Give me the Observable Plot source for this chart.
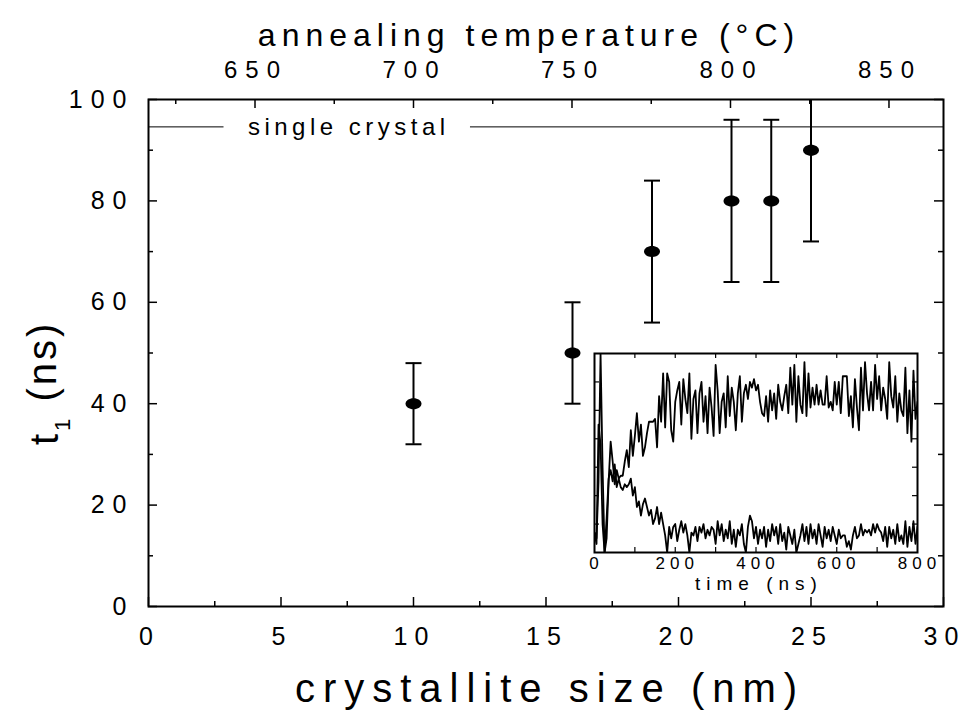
<!DOCTYPE html>
<html><head><meta charset="utf-8">
<script src="https://cdn.jsdelivr.net/npm/d3@7"></script>
<script src="https://cdn.jsdelivr.net/npm/@observablehq/plot@0.6"></script>
<style>
body{margin:0;background:#fff;}
#wrap{position:relative;width:961px;height:711px;overflow:hidden;}
#wrap svg{position:absolute;}
svg text{font-family:"Liberation Sans",Arial,Helvetica,sans-serif;}
</style></head><body><div id="wrap"></div>
<script>
// ---- main chart data ----
const sizes   = [10, 16, 19, 22, 23.5, 25];          // crystallite size (nm)
const t1      = [40, 50, 70, 80, 80, 90];             // t1 (ns)
const errLow  = [32, 40, 56, 64, 64, 72];
const errHigh = [48, 60, 84, 96, 96, 108];
const singleCrystal = 94.6;

const xTicksMajor = [0, 5, 10, 15, 20, 25, 30];
const xTicksMinor = [2.5, 7.5, 12.5, 17.5, 22.5, 27.5];
const yTicksMajor = [0, 20, 40, 60, 80, 100];
const yTicksMinor = [10, 30, 50, 70, 90];
const tempMajor = [650, 700, 750, 800, 850];
const tempMinor = [625, 675, 725, 775, 825];

// ---- inset data ----
const insetStep = 5; // ns sampling
const upperTrace = [
0.7,0.5,2.5,7.0,3.0,0.0,0.5,2.5,3.9,3.2,
2.4,2.9,2.6,2.7,2.7,3.2,3.6,3.0,4.3,3.4,
4.1,4.9,3.9,4.5,3.4,3.7,4.2,4.6,4.6,4.6,
4.7,3.7,5.5,4.6,6.3,4.4,6.3,6.0,4.3,3.9,
5.3,5.7,6.0,4.5,6.1,5.4,4.9,6.3,4.0,5.4,
5.7,4.2,5.6,6.0,4.6,5.5,4.2,5.8,5.1,4.1,
6.6,5.7,4.2,5.3,5.6,4.4,6.2,4.8,5.8,5.3,
4.3,5.6,6.2,4.6,5.6,5.9,5.4,6.0,5.8,6.1,
5.7,5.9,5.3,4.9,4.8,5.5,4.6,5.7,5.0,5.6,
4.7,5.9,5.3,5.0,5.5,5.9,4.9,6.5,5.2,6.6,
4.6,6.2,5.2,4.9,6.7,4.8,6.3,5.1,5.8,5.2,
5.9,5.2,5.7,5.2,5.2,6.2,5.1,5.3,5.0,6.0,
5.2,6.0,4.9,6.2,6.2,6.2,4.8,5.5,4.4,6.1,
5.1,4.3,6.5,5.0,6.7,5.6,5.0,6.0,5.0,6.6,
5.4,6.2,5.0,5.8,5.4,4.7,6.7,5.5,5.1,6.2,
4.6,5.6,5.0,4.8,6.5,4.2,5.7,3.9,6.4,4.7,
5.3];
const lowerTrace = [
0.7,0.3,4.5,3.8,1.0,0.0,1.2,2.6,2.9,2.5,
3.1,2.3,2.6,2.3,2.2,2.4,2.3,2.4,2.6,2.0,
2.3,1.6,1.8,1.3,1.7,1.9,1.6,1.3,1.5,1.0,
1.2,1.6,1.0,1.4,1.0,0.6,0.0,0.9,0.5,0.9,
1.0,0.4,0.8,1.1,0.7,1.0,0.6,0.0,0.7,0.6,
0.9,0.4,0.9,0.7,1.0,0.5,0.8,0.6,0.9,0.8,
0.3,1.1,0.6,1.0,0.4,0.8,0.5,1.1,0.3,0.8,
0.2,0.8,0.6,1.0,0.3,0.0,0.9,1.3,1.1,0.5,
0.9,0.3,0.8,0.5,0.9,0.2,0.8,0.4,1.0,0.6,
0.9,0.3,1.0,0.4,0.7,0.1,0.9,0.6,0.3,0.8,
0.0,0.3,0.6,1.0,0.4,0.9,0.3,1.0,0.5,0.8,
0.3,1.0,0.6,0.2,0.9,0.5,0.8,0.4,0.9,0.6,
0.3,0.8,0.5,0.6,0.6,0.2,0.4,0.1,0.6,0.9,
0.5,0.6,1.0,0.6,0.8,0.7,0.8,0.6,1.0,0.7,
1.0,0.8,0.7,0.4,0.9,0.2,0.9,0.5,0.8,0.3,
1.0,0.4,0.6,0.3,1.1,0.2,0.9,0.4,1.1,0.3,
0.9];
const insetXTicksLabeled = [0, 200, 400, 600, 800];
const insetXTicks = [100, 200, 300, 400, 500, 600, 700];
const insetYTicks = [1, 2, 3, 4, 5, 6];

// ---- layout ----
const W = 961, H = 711, ML = 148, MR = 18, MT = 99, MB = 105;
const PW = W - ML - MR, PH = H - MT - MB;
const tempToSize = T => (T - 616.4) / 8.36; // top axis mapping

const points = sizes.map((s, i) => ({size: s, t1: t1[i], lo: errLow[i], hi: errHigh[i]}));

const ellipse = {draw(ctx) {
  const rx = 8, ry = 5.5, k = 0.5523;
  ctx.moveTo(rx, 0);
  ctx.bezierCurveTo(rx, ry * k, rx * k, ry, 0, ry);
  ctx.bezierCurveTo(-rx * k, ry, -rx, ry * k, -rx, 0);
  ctx.bezierCurveTo(-rx, -ry * k, -rx * k, -ry, 0, -ry);
  ctx.bezierCurveTo(rx * k, -ry, rx, -ry * k, rx, 0);
  ctx.closePath();
}};
const cap = {draw(ctx) { ctx.moveTo(-8, 0); ctx.lineTo(8, 0); }};

const main = Plot.plot({
  width: W, height: H,
  marginLeft: ML, marginRight: MR, marginTop: MT, marginBottom: MB,
  style: {background: "white", fontFamily: "Liberation Sans, Arial, sans-serif", overflow: "visible"},
  x: {domain: [0, 30], axis: null},
  y: {domain: [0, 100], axis: null},
  marks: [
    // single-crystal reference line (with a gap for its label)
    Plot.ruleY([singleCrystal], {x1: 0, x2: 2.85, strokeWidth: 1}),
    Plot.ruleY([singleCrystal], {x1: 12.15, x2: 30, strokeWidth: 1}),
    Plot.text(["single crystal"], {x: 3.75, y: singleCrystal, text: d => d, textAnchor: "start", lineAnchor: "middle", fontSize: 24}),
    // error bars
    Plot.ruleX(points, {x: "size", y1: "lo", y2: "hi", strokeWidth: 2, clip: true}),
    Plot.dot(points, {x: "size", y: "lo", symbol: cap, stroke: "black", strokeWidth: 2, fill: "none", clip: true}),
    Plot.dot(points, {x: "size", y: "hi", symbol: cap, stroke: "black", strokeWidth: 2, fill: "none", clip: true}),
    Plot.dot(points, {x: "size", y: "t1", symbol: ellipse, fill: "black", stroke: "none"}),
    // ticks (inward)
    Plot.ruleX(xTicksMajor, {x: d => d, insetTop: PH - 9, strokeWidth: 1.5}),
    Plot.ruleX(xTicksMinor, {x: d => d, insetTop: PH - 5, strokeWidth: 1.5}),
    Plot.ruleX(tempMajor, {x: tempToSize, insetBottom: PH - 9, strokeWidth: 1.5}),
    Plot.ruleX(tempMinor, {x: tempToSize, insetBottom: PH - 5, strokeWidth: 1.5}),
    Plot.ruleY(yTicksMajor, {y: d => d, insetRight: PW - 9, strokeWidth: 1.5}),
    Plot.ruleY(yTicksMinor, {y: d => d, insetRight: PW - 5, strokeWidth: 1.5}),
    Plot.ruleY(yTicksMajor, {y: d => d, insetLeft: PW - 9, strokeWidth: 1.5}),
    Plot.ruleY(yTicksMinor, {y: d => d, insetLeft: PW - 5, strokeWidth: 1.5}),
    Plot.frame({stroke: "black", strokeWidth: 2}),
    // tick labels
    Plot.text(xTicksMajor, {x: d => d, text: d => String(d), frameAnchor: "bottom", lineAnchor: "middle", dy: 30, dx: 1, fontSize: 25}),
    Plot.text(yTicksMajor, {y: d => d, text: d => String(d), frameAnchor: "left", textAnchor: "end", lineAnchor: "middle", dx: -14, fontSize: 25}),
    Plot.text(tempMajor, {x: tempToSize, text: d => String(d), frameAnchor: "top", lineAnchor: "middle", dy: -29, dx: 1, fontSize: 24}),
    // titles
    Plot.text(["crystallite size (nm)"], {frameAnchor: "bottom", lineAnchor: "middle", dy: 83, dx: 4, fontSize: 40}),
    Plot.text(["annealing temperature (°C)"], {frameAnchor: "top", lineAnchor: "middle", dx: -17, dy: -64, fontSize: 32}),
    Plot.text(["t"], {frameAnchor: "left", lineAnchor: "middle", dx: -103, dy: 92, rotate: -90, fontSize: 40})
  ]
});

// letter spacing per text mark (order of the text marks above)
const spacings = ["4.5px", "7px", "8px", "8px", "8px", "6px", "3px"];
main.querySelectorAll('g[aria-label="text"]').forEach((g, i) => {
  if (spacings[i]) g.style.letterSpacing = spacings[i];
});
// subscript in y title
const textGroups = main.querySelectorAll('g[aria-label="text"]');
const yt = d3.select(textGroups[textGroups.length - 1]).select("text");
yt.text("t");
yt.append("tspan").attr("dy", "0.55em").attr("font-size", 22).text("1");
yt.append("tspan").attr("dy", "-0.35em").text(" (ns)");

// ---- inset ----
const iML = 12, iMR = 24, iMT = 6, iMB = 52, IW = 323, IH = 199;
const insetData = [];
upperTrace.forEach((v, i) => insetData.push({t: i * insetStep, v, s: "upper"}));
lowerTrace.forEach((v, i) => insetData.push({t: i * insetStep, v, s: "lower"}));

const inset = Plot.plot({
  width: IW + iML + iMR, height: IH + iMT + iMB,
  marginLeft: iML, marginRight: iMR, marginTop: iMT, marginBottom: iMB,
  style: {background: "transparent", fontFamily: "Liberation Sans, Arial, sans-serif", overflow: "visible"},
  x: {domain: [0, 800], axis: null},
  y: {domain: [0, 7], axis: null},
  marks: [
    Plot.rect([0], {x1: 0, x2: 800, y1: 0, y2: 7, fill: "white"}),
    Plot.line(insetData, {x: "t", y: "v", z: "s", stroke: "black", strokeWidth: 1.8, clip: true}),
    Plot.ruleX(insetXTicks, {x: d => d, insetTop: IH - 5, strokeWidth: 1.2}),
    Plot.ruleX(insetXTicks, {x: d => d, insetBottom: IH - 5, strokeWidth: 1.2}),
    Plot.ruleY(insetYTicks, {y: d => d, insetRight: IW - 5, strokeWidth: 1.2}),
    Plot.ruleY(insetYTicks, {y: d => d, insetLeft: IW - 5, strokeWidth: 1.2}),
    Plot.frame({stroke: "black", strokeWidth: 2}),
    Plot.text(insetXTicksLabeled, {x: d => d, text: d => String(d), frameAnchor: "bottom", lineAnchor: "middle", dy: 11, dx: 2, fontSize: 17}),
    Plot.text(["time (ns)"], {frameAnchor: "bottom", lineAnchor: "middle", dy: 31, dx: 3, fontSize: 19})
  ]
});
const insetSpacings = ["5px", "6px"];
inset.querySelectorAll('g[aria-label="text"]').forEach((g, i) => {
  if (insetSpacings[i]) g.style.letterSpacing = insetSpacings[i];
});

const wrap = document.getElementById("wrap");
main.style.left = "0px"; main.style.top = "0px";
inset.style.left = (594 - iML) + "px"; inset.style.top = (353 - iMT) + "px";
wrap.appendChild(main);
wrap.appendChild(inset);
</script>
</body></html>
